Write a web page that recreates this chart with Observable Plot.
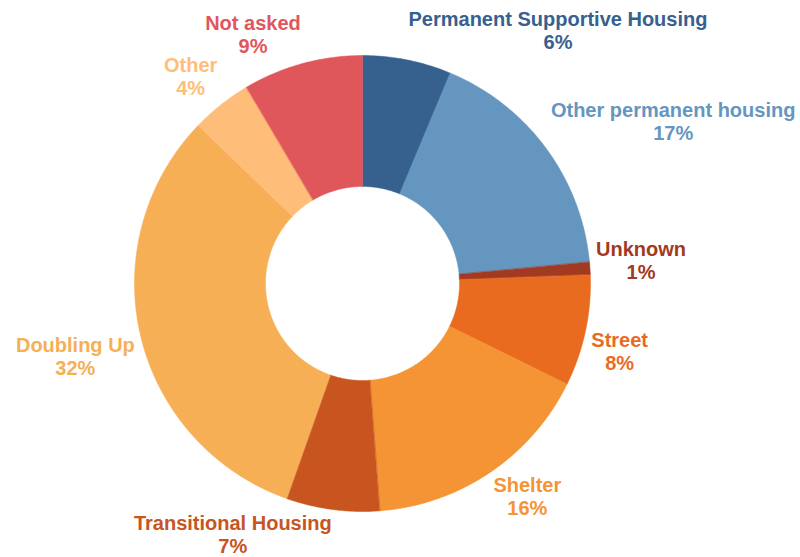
<!DOCTYPE html>
<html>
<head>
<meta charset="utf-8">
<script src="https://cdn.jsdelivr.net/npm/d3@7"></script>
<script src="https://cdn.jsdelivr.net/npm/@observablehq/plot@0.6"></script>
<style>
  html, body { margin: 0; padding: 0; background: #fff; }
  #chart { width: 800px; height: 557px; }
</style>
</head>
<body>
<div id="chart"></div>
<script>
// ---- Data ----
const categories = [
  "Permanent Supportive Housing",
  "Other permanent housing",
  "Unknown",
  "Street",
  "Shelter",
  "Transitional Housing",
  "Doubling Up",
  "Other",
  "Not asked"
];
const shares = [6.3, 17.2, 0.9, 7.9, 16.5, 6.6, 31.8, 4.3, 8.5];
const percentLabels = ["6%", "17%", "1%", "8%", "16%", "7%", "32%", "4%", "9%"];
const colors = [
  "#36618f", "#6596bf", "#a13a20", "#e96b1f", "#f49435",
  "#c85420", "#f7af56", "#febe7a", "#e0575b"
];

// ---- Layout ----
const W = 800, H = 557;
const CX = 362, CY = 283;      // centre of the donut in pixels
const R_OUT = 228, R_IN = 97;
const LABEL_R = 234;
const FONT_SIZE = 20, LINE_H = 23;
const FONT = '"Liberation Sans", Arial, sans-serif';

const pie = d3.pie().sort(null).startAngle(0).endAngle(2 * Math.PI)(shares);

// polygon vertices for each slice in (pixel-unit) data space, y up
const slicePts = [];
pie.forEach((p, i) => {
  const n = Math.max(4, Math.ceil((p.endAngle - p.startAngle) / (Math.PI / 360)));
  const pts = [];
  for (let k = 0; k <= n; k++) {
    const a = p.startAngle + (p.endAngle - p.startAngle) * k / n;
    pts.push({cat: categories[i], x: R_OUT * Math.sin(a), y: R_OUT * Math.cos(a)});
  }
  for (let k = n; k >= 0; k--) {
    const a = p.startAngle + (p.endAngle - p.startAngle) * k / n;
    pts.push({cat: categories[i], x: R_IN * Math.sin(a), y: R_IN * Math.cos(a)});
  }
  slicePts.push(...pts);
});

// label positions: block placed just outside the slice midpoint
const ctx = document.createElement("canvas").getContext("2d");
ctx.font = `bold ${FONT_SIZE}px ${FONT}`;
const labels = pie.map((p, i) => {
  const a = (p.startAngle + p.endAngle) / 2;
  const s = Math.sin(a), c = Math.cos(a);
  const hw = Math.max(ctx.measureText(categories[i]).width, ctx.measureText(percentLabels[i]).width) / 2;
  const px = LABEL_R * s, py = LABEL_R * c;
  const k = Math.max(-1, Math.min(1, c * 5));
  const hh = k > 0 ? 24 : 19;
  return {
    cat: categories[i],
    text: categories[i] + "\n" + percentLabels[i],
    x: px + Math.sign(s) * hw,
    y: py + k * hh
  };
});

const chart = Plot.plot({
  width: W,
  height: H,
  margin: 0,
  x: {domain: [-CX, W - CX], axis: null},
  y: {domain: [-(H - CY), CY], axis: null},
  color: {domain: categories, range: colors},
  style: {fontFamily: FONT, background: "#fff"},
  marks: [
    Plot.line(slicePts, {x: "x", y: "y", z: "cat", fill: "cat", stroke: "cat", strokeWidth: 0.5, curve: "linear-closed"}),
    Plot.text(labels, {
      x: "x", y: "y", text: "text", fill: "cat",
      fontSize: FONT_SIZE, fontWeight: "bold", lineHeight: LINE_H / FONT_SIZE,
      textAnchor: "middle"
    })
  ]
});
document.getElementById("chart").appendChild(chart);
</script>
</body>
</html>
